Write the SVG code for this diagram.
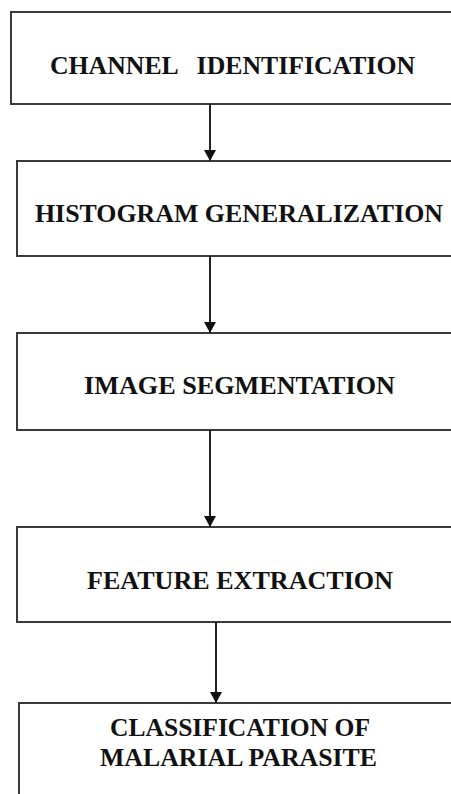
<svg xmlns="http://www.w3.org/2000/svg" width="451" height="794" viewBox="0 0 451 794">
<defs>
<marker id="ah" markerWidth="11" markerHeight="12" refX="11" refY="6" orient="auto" markerUnits="userSpaceOnUse">
<path d="M0,0 L11,6 L0,12 Z" fill="#111"/>
</marker>
<style>
.box{fill:#fff;stroke:#3a3a3a;stroke-width:2}
.lbl{font-family:"Liberation Serif","Times New Roman",serif;font-weight:bold;font-size:26px;fill:#111;text-anchor:start}
.con{stroke:#222;stroke-width:2;fill:none}
</style>
</defs>
<rect width="451" height="794" fill="#fff"/>
<g id="n1">
<rect class="box" x="11" y="12" width="460" height="92"/>
<text class="lbl" x="50" y="74" textLength="365" lengthAdjust="spacingAndGlyphs" xml:space="preserve">CHANNEL   IDENTIFICATION</text>
</g>
<g id="n2">
<rect class="box" x="17" y="161" width="460" height="95"/>
<text class="lbl" x="35" y="222" textLength="408" lengthAdjust="spacingAndGlyphs">HISTOGRAM GENERALIZATION</text>
</g>
<g id="n3">
<rect class="box" x="17" y="333" width="460" height="97"/>
<text class="lbl" x="84" y="394" textLength="311" lengthAdjust="spacingAndGlyphs">IMAGE SEGMENTATION</text>
</g>
<g id="n4">
<rect class="box" x="17" y="527" width="460" height="95"/>
<text class="lbl" x="87" y="589" textLength="306" lengthAdjust="spacingAndGlyphs">FEATURE EXTRACTION</text>
</g>
<g id="n5">
<rect class="box" x="19" y="703" width="460" height="120"/>
<text class="lbl" x="110" y="736" textLength="260" lengthAdjust="spacingAndGlyphs">CLASSIFICATION OF</text>
<text class="lbl" x="100" y="766" textLength="277" lengthAdjust="spacingAndGlyphs">MALARIAL PARASITE</text>
</g>
<g id="connectors">
<line class="con" x1="210" y1="104" x2="210" y2="161" marker-end="url(#ah)"/>
<line class="con" x1="210" y1="256" x2="210" y2="333" marker-end="url(#ah)"/>
<line class="con" x1="210" y1="430" x2="210" y2="527" marker-end="url(#ah)"/>
<line class="con" x1="216" y1="622" x2="216" y2="703" marker-end="url(#ah)"/>
</g>
</svg>
